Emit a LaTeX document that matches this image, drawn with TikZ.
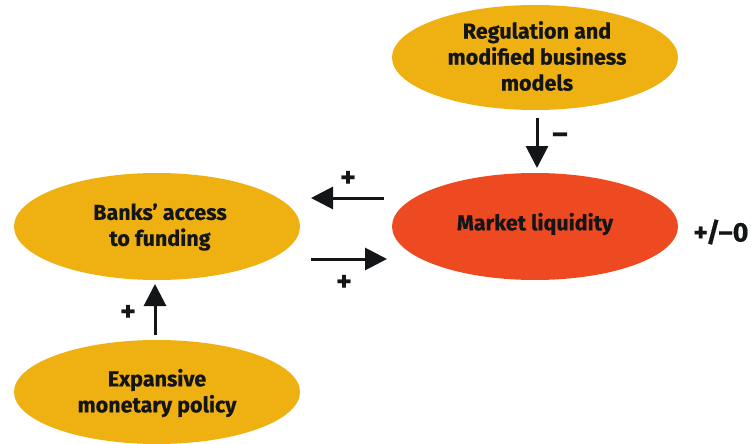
\documentclass[tikz,border=0pt]{standalone}
\usepackage{fontspec}
\setmainfont{Fira Sans}[BoldFeatures={FakeBold=0.6}]
\usetikzlibrary{arrows.meta}
\definecolor{ochre}{HTML}{EFB012}
\definecolor{redorange}{HTML}{EE4A22}
\definecolor{ink}{HTML}{131516}
\tikzset{
  bubble/.style={inner sep=0pt, font=\bfseries\fontsize{21.5}{26}\selectfont, text=ink, align=center},
  flow/.style={draw=ink, line width=3pt, -{Triangle[length=22pt,width=22pt]}},
  sign/.style={font=\bfseries\fontsize{29}{30}\selectfont, text=ink}
}
\begin{document}
\begin{tikzpicture}[x=1pt,y=-1pt]
\useasboundingbox (0,0) rectangle (756,444);
\begin{scope}
\clip (0,0) rectangle (756,444);
\fill[ochre] (535,57.5) ellipse [x radius=143, y radius=52.5];
\fill[redorange] (535,226.5) ellipse [x radius=143, y radius=53.5];
\fill[ochre] (157,226.5) ellipse [x radius=143, y radius=53.5];
\fill[ochre] (157,392) ellipse [x radius=143, y radius=52];
\end{scope}
\node[bubble] (reg) at (537,56) {Regulation and\\modified business\\models};
\node[bubble] (mkt) at (535,224) {Market liquidity};
\node[bubble] (bank) at (160,227) {Banks' access\\to funding};
\node[bubble] (exp) at (157,393) {Expansive\\monetary policy};
\coordinate (regb) at (537,118);
\coordinate (mktt) at (537,168);
\coordinate (mktl1) at (384,198);
\coordinate (bankr1) at (311,198);
\coordinate (bankr2) at (311,259);
\coordinate (mktl2) at (387,259);
\coordinate (expt) at (155,335);
\coordinate (bankb) at (155,284);
\draw[flow] (regb) -- (mktt);
\draw[flow] (mktl1) -- (bankr1);
\draw[flow] (bankr2) -- (mktl2);
\draw[flow] (expt) -- (bankb);
\node[sign] (s1) at (560,138) {–};
\node[sign] (s2) at (348,179) {+};
\node[sign] (s3) at (344,283) {+};
\node[sign] (s4) at (128,313) {+};
\node[sign, font=\bfseries\fontsize{27}{28}\selectfont] (s5) at (721,232) {+/–0};
\end{tikzpicture}
\end{document}
